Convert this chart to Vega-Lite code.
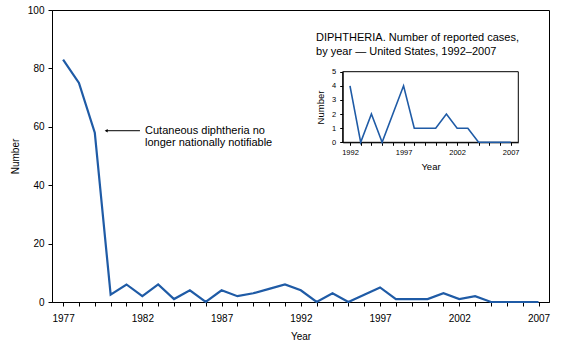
{
  "$schema": "https://vega.github.io/schema/vega-lite/v6.json",
  "width": 497,
  "height": 292,
  "autosize": "none",
  "padding": {"left": 52, "top": 10, "right": 15, "bottom": 44},
  "background": "white",
  "datasets": {
    "main": [
      {"year": 1977, "cases": 83}, {"year": 1978, "cases": 75}, {"year": 1979, "cases": 58},
      {"year": 1980, "cases": 2.5}, {"year": 1981, "cases": 6}, {"year": 1982, "cases": 2},
      {"year": 1983, "cases": 6}, {"year": 1984, "cases": 1}, {"year": 1985, "cases": 4},
      {"year": 1986, "cases": 0}, {"year": 1987, "cases": 4}, {"year": 1988, "cases": 2},
      {"year": 1989, "cases": 3}, {"year": 1990, "cases": 4.5}, {"year": 1991, "cases": 6},
      {"year": 1992, "cases": 4}, {"year": 1993, "cases": 0}, {"year": 1994, "cases": 3},
      {"year": 1995, "cases": 0}, {"year": 1996, "cases": 2.5}, {"year": 1997, "cases": 5},
      {"year": 1998, "cases": 1}, {"year": 1999, "cases": 1}, {"year": 2000, "cases": 1},
      {"year": 2001, "cases": 3}, {"year": 2002, "cases": 1}, {"year": 2003, "cases": 2},
      {"year": 2004, "cases": 0}, {"year": 2005, "cases": 0}, {"year": 2006, "cases": 0},
      {"year": 2007, "cases": 0}
    ],
    "inset": [
      {"year": 1992, "cases": 4}, {"year": 1993, "cases": 0}, {"year": 1994, "cases": 2},
      {"year": 1995, "cases": 0}, {"year": 1996, "cases": 2}, {"year": 1997, "cases": 4},
      {"year": 1998, "cases": 1}, {"year": 1999, "cases": 1}, {"year": 2000, "cases": 1},
      {"year": 2001, "cases": 2}, {"year": 2002, "cases": 1}, {"year": 2003, "cases": 1},
      {"year": 2004, "cases": 0}, {"year": 2005, "cases": 0}, {"year": 2006, "cases": 0},
      {"year": 2007, "cases": 0}
    ],
    "one": [{}]
  },
  "config": {
    "view": {"stroke": "black", "strokeWidth": 1},
    "font": "Liberation Sans",
    "axis": {
      "grid": false,
      "domainColor": "black",
      "tickColor": "black",
      "labelColor": "black",
      "titleColor": "black",
      "labelFont": "Liberation Sans",
      "titleFont": "Liberation Sans",
      "titleFontWeight": "normal",
      "labelFlush": false,
      "labelOverlap": false,
      "labelBound": false
    }
  },
  "layer": [
    {
      "layer": [
        {
          "data": {"name": "main"},
          "mark": {"type": "line", "color": "#1f5ba6", "strokeWidth": 2.2},
          "encoding": {
            "x": {
              "field": "year", "type": "quantitative",
              "scale": {"domain": [1976.3, 2007.66], "nice": false, "zero": false},
              "axis": {
                "values": [1977,1978,1979,1980,1981,1982,1983,1984,1985,1986,1987,1988,1989,1990,1991,1992,1993,1994,1995,1996,1997,1998,1999,2000,2001,2002,2003,2004,2005,2006,2007],
                "tickCount": 100,
                "format": "d",
                "labelExpr": "(datum.value - 1977) % 5 === 0 ? datum.label : ''",
                "labelOverlap": false,
                "labelFontSize": 10,
                "tickSize": 4,
                "labelPadding": 7,
                "title": "Year",
                "titleFontSize": 10,
                "titlePadding": 8
              }
            },
            "y": {
              "field": "cases", "type": "quantitative",
              "scale": {"domain": [0, 100], "nice": false},
              "axis": {
                "values": [0, 20, 40, 60, 80, 100],
                "tickCount": 100,
                "format": "d",
                "labelFontSize": 10,
                "tickSize": 4,
                "labelPadding": 4,
                "title": "Number",
                "titleFontSize": 10,
                "titlePadding": 7
              }
            }
          }
        },
        {
          "data": {"name": "one"},
          "mark": {"type": "rule", "color": "black", "strokeWidth": 1},
          "encoding": {
            "x": {"datum": 1979.75, "type": "quantitative"},
            "x2": {"datum": 1981.85},
            "y": {"datum": 58.66, "type": "quantitative"}
          }
        },
        {
          "data": {"name": "one"},
          "mark": {"type": "point", "shape": "triangle-left", "filled": true, "color": "black", "size": 12, "opacity": 1},
          "encoding": {
            "x": {"datum": 1979.72, "type": "quantitative"},
            "y": {"datum": 58.66, "type": "quantitative"}
          }
        },
        {
          "data": {"name": "one"},
          "mark": {"type": "text", "align": "left", "baseline": "middle", "fontSize": 11, "lineHeight": 12, "font": "Liberation Sans", "color": "black", "lineBreak": "\n"},
          "encoding": {
            "x": {"datum": 1982.17, "type": "quantitative"},
            "y": {"datum": 58.7, "type": "quantitative"},
            "text": {"value": "Cutaneous diphtheria no\nlonger nationally notifiable"}
          }
        },
        {
          "data": {"name": "one"},
          "mark": {"type": "text", "align": "left", "baseline": "middle", "fontSize": 11, "lineHeight": 14, "font": "Liberation Sans", "color": "black", "lineBreak": "\n"},
          "encoding": {
            "x": {"datum": 1992.96, "type": "quantitative"},
            "y": {"datum": 90.4, "type": "quantitative"},
            "text": {"value": "DIPHTHERIA. Number of reported cases,\nby year \u2014 United States, 1992\u20132007"}
          }
        }
      ]
    },
    {
      "layer": [
        {
          "data": {"name": "one"},
          "mark": {"type": "rect", "fill": null, "fillOpacity": 0, "stroke": "black", "strokeWidth": 1},
          "encoding": {
            "x": {"datum": 1991.32, "type": "quantitative",
              "scale": {"domain": [1991.32, 2007.71], "range": [290.7, 466.3], "nice": false, "zero": false}},
            "x2": {"datum": 2007.71},
            "y": {"datum": 0, "type": "quantitative",
              "scale": {"domain": [0, 5], "range": [132.3, 61.7], "nice": false}},
            "y2": {"datum": 5}
          }
        },
        {
          "data": {"name": "inset"},
          "mark": {"type": "line", "color": "#1f5ba6", "strokeWidth": 1.6},
          "encoding": {
            "x": {
              "field": "year", "type": "quantitative",
              "scale": {"domain": [1991.32, 2007.71], "range": [290.7, 466.3], "nice": false, "zero": false},
              "axis": {
                "orient": "bottom",
                "offset": -159.7,
                "values": [1992,1993,1994,1995,1996,1997,1998,1999,2000,2001,2002,2003,2004,2005,2006,2007],
                "tickCount": 100,
                "format": "d",
                "labelExpr": "(datum.value - 1992) % 5 === 0 ? datum.label : ''",
                "labelOverlap": false,
                "labelFontSize": 7.5,
                "tickSize": 3,
                "labelPadding": 3,
                "title": "Year",
                "titleFontSize": 9.5,
                "titlePadding": 6
              }
            },
            "y": {
              "field": "cases", "type": "quantitative",
              "scale": {"domain": [0, 5], "range": [132.3, 61.7], "nice": false},
              "axis": {
                "orient": "left",
                "offset": -290.7,
                "values": [0, 1, 2, 3, 4, 5],
                "tickCount": 100,
                "format": "d",
                "labelFontSize": 7.5,
                "tickSize": 3,
                "labelPadding": 4,
                "title": "Number",
                "titleFontSize": 9.5,
                "titlePadding": 6
              }
            }
          }
        }
      ]
    }
  ],
  "resolve": {
    "scale": {"x": "independent", "y": "independent"},
    "axis": {"x": "independent", "y": "independent"}
  }
}
